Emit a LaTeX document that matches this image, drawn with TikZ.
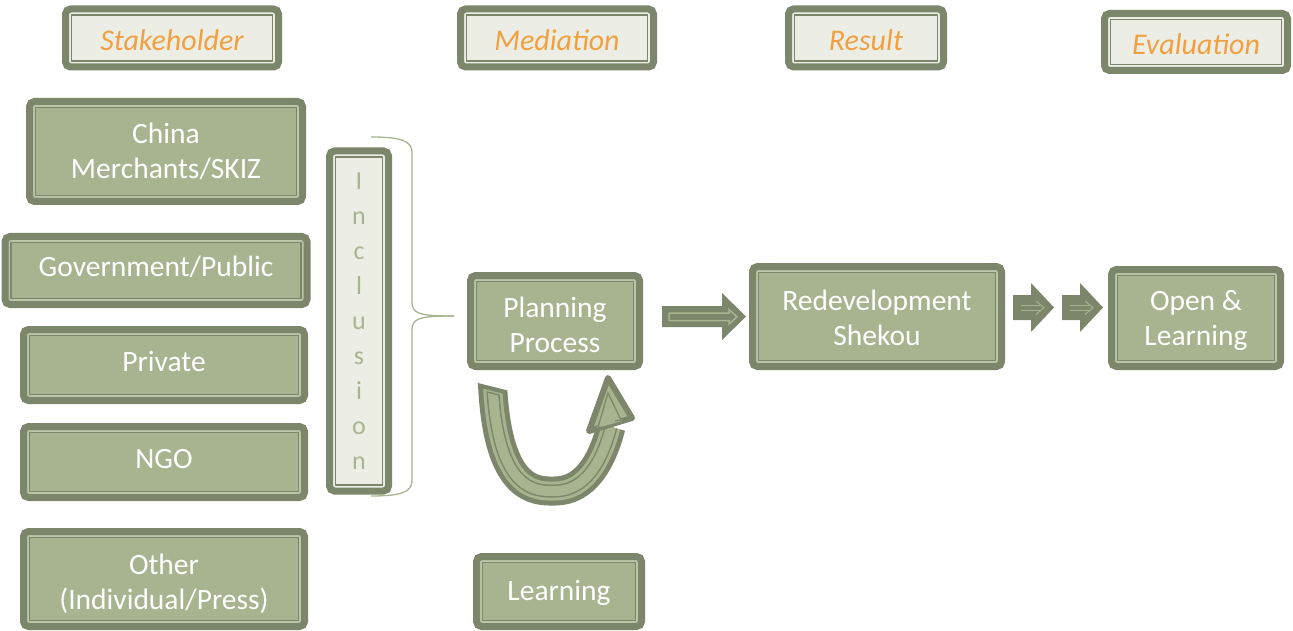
\documentclass[tikz,border=0pt]{standalone}
\usepackage{fontspec}
\newfontfamily\mainf{Carlito}
\definecolor{dk}{HTML}{7B866A}
\definecolor{fl}{HTML}{A7B48F}
\definecolor{lt}{HTML}{BCC5A8}
\definecolor{hf}{HTML}{ECEEE6}
\definecolor{org}{HTML}{F0A040}
\tikzset{
  framed/.style={draw=dk, line width=7pt, rounded corners=5pt, inner sep=0pt, align=center,
    path picture={
      \draw[#1, line width=2pt, sharp corners] ([shift={(4.5pt,-4.5pt)}]path picture bounding box.north west) rectangle ([shift={(-4.5pt,4.5pt)}]path picture bounding box.south east);
      \draw[dk, line width=1.5pt, sharp corners] ([shift={(6.2pt,-6.2pt)}]path picture bounding box.north west) rectangle ([shift={(-6.2pt,6.2pt)}]path picture bounding box.south east);
    }},
  bx/.style={framed=lt, fill=fl},
  hd/.style={framed=hf, fill=hf},
  bt/.style={text=white, font=\mainf\fontsize{29.5}{35}\selectfont, align=center, inner sep=0pt},
  ht/.style={text=org, font=\mainf\itshape\fontsize{30}{32}\selectfont, inner sep=0pt},
  blk/.style={fill=dk, draw=none},
  inl/.style={draw=fl, line width=1.5pt, line join=miter},
}
\begin{document}
\begin{tikzpicture}[x=1pt, y=-1pt]
\useasboundingbox (0,0) rectangle (1293,631);
% headers
\node[hd, minimum width=213, minimum height=58, label={[ht, yshift=-2pt]center:Stakeholder}] (hs) at (172,38) {};
\node[hd, minimum width=193, minimum height=58, label={[ht, yshift=-2pt]center:Mediation}] (hm) at (557,38) {};
\node[hd, minimum width=155, minimum height=58, label={[ht, yshift=-2pt]center:Result}] (hr) at (866,38) {};
\node[hd, minimum width=183, minimum height=57, label={[ht, yshift=-2pt]center:Evaluation}] (he) at (1196,42) {};
% stakeholders
\node[bx, minimum width=273, minimum height=100, label={[bt]center:{China\\Merchants/SKIZ}}] (cm) at (166,151.5) {};
\node[bx, minimum width=302, minimum height=68, label={[bt, yshift=4pt]center:Government/Public}] (gov) at (156,270.5) {};
\node[bx, minimum width=281, minimum height=71, label={[bt, yshift=4pt]center:Private}] (pri) at (164,365) {};
\node[bx, minimum width=281, minimum height=71, label={[bt, yshift=3pt]center:NGO}] (ngo) at (164,462) {};
\node[bx, minimum width=281, minimum height=95, label={[bt, yshift=-5pt]center:{Other\\(Individual/Press)}}] (oth) at (164,579) {};
% inclusion
\node[framed=hf, fill=hf, text=fl, minimum width=59, minimum height=340,
      font=\mainf\fontsize{26}{35}\selectfont] (inc) at (359,321)
      {I\\n\\c\\l\\u\\s\\i\\o\\n};
% brace
\coordinate (btop) at (371,137);
\coordinate (bbot) at (371,496);
\coordinate (btip) at (454,316);
\draw[fl, line width=1.3pt] (btop) .. controls (398,137) and (412,140) .. (412,152)
  -- (412,302) .. controls (412,314) and (420,316) .. (btip);
\draw[fl, line width=1.3pt] (bbot) .. controls (398,496) and (412,493) .. (412,481)
  -- (412,330) .. controls (412,318) and (420,316) .. (btip);
% mediation
\node[bx, minimum width=169, minimum height=91, label={[bt, yshift=-4pt]center:{Planning\\Process}}] (pp) at (555,321) {};
\node[bx, minimum width=165, minimum height=70, label={[bt, yshift=-1pt]center:Learning}] (lrn) at (559,591.5) {};
% result / evaluation
\node[bx, minimum width=249, minimum height=100, label={[bt, yshift=-1.5pt]center:{Redevelopment\\Shekou}}] (rs) at (877,316.5) {};
\node[bx, minimum width=169, minimum height=97, label={[bt, yshift=-2pt]center:{Open \&\\Learning}}] (ol) at (1196,318) {};
% big arrow
\fill[blk] (662,306) -- (722,306) -- (722,293) -- (746,316.5) -- (722,340) -- (722,327) -- (662,327) -- cycle;
\draw[inl] (669,313) -- (729,313) -- (729,309.5) -- (737,316.8) -- (729,324) -- (729,320.7) -- (669,320.7) -- cycle;
% small arrows
\foreach \dx in {0, 49}{
  \begin{scope}[xshift=\dx]
  \fill[blk] (1013,295) -- (1031,295) -- (1031,283) -- (1054,307.5) -- (1031,332) -- (1031,320) -- (1013,320) -- cycle;
  \draw[fl, line width=1pt] (1021,305) -- (1040,305) (1021,310.5) -- (1040,310.5);
  \draw[fl, line width=1pt] (1036,301) -- (1044,307.7) -- (1036,314.5);
  \end{scope}
}
% U-turn arrow
\def\upath{(492,370) .. controls (494,468) and (520,491) .. (552,491) .. controls (585,491) and (602,462) .. (611,427)}
\foreach \col/\w/\s in {dk/29/0, fl/19/4.5, dk/13/6, fl/10/7.5}{
  \begin{scope}
    \clip[yshift=-\s pt] (400,620) -- (400,363.5) -- (520,393.5) -- (560,340) -- (700,340) -- (700,620) -- cycle;
    \draw[\col, line width=\w pt, rounded corners=3pt] \upath;
  \end{scope}
}
\draw[dk, line width=6pt, line join=round, fill=fl] (589,431) -- (608,378) -- (632,418) -- cycle;
\fill[fl] (597,428) -- (608,393) -- (622,421) -- cycle;
\draw[dk, line width=1.3pt, line join=miter] (604,428) -- (598,427) -- (608,393) -- (621,420) -- (615,421);
\end{tikzpicture}
\end{document}
